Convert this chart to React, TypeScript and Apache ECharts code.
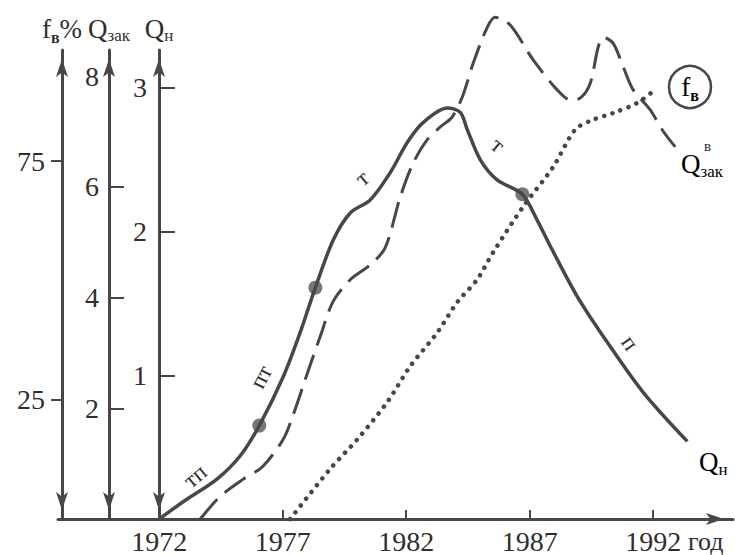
import React, { useEffect, useRef } from 'react';
import * as echarts from 'echarts';

// ---- data ----
const xTickYears = [1977, 1982, 1987, 1992];
const xLabelYears = [1972, 1977, 1982, 1987, 1992];
const fbTicks = [25, 75];
const qzakTicks = [2, 4, 6];
const qzakLabels = [2, 4, 6, 8];
const qnTicks = [1, 2, 3];

// Q_н (solid)
const qnYear = [1972.0, 1972.97, 1974.35, 1975.28, 1976.05, 1977.02, 1977.71, 1978.32, 1979.04, 1979.73, 1980.54, 1981.35, 1982.04, 1982.69, 1983.66, 1984.19, 1984.47, 1985.0, 1985.68, 1986.7, 1987.3, 1987.83, 1988.92, 1990.14, 1991.6, 1993.38];
const qnValue = [0, 0.12, 0.28, 0.44, 0.65, 0.99, 1.3, 1.61, 1.94, 2.13, 2.22, 2.41, 2.62, 2.76, 2.86, 2.83, 2.71, 2.5, 2.36, 2.26, 2.08, 1.9, 1.55, 1.23, 0.88, 0.54];
// Q_н marked points
const qnDotYear = [1976.05, 1978.32, 1986.7];
const qnDotValue = [0.65, 1.61, 2.26];

// Q_зак^в (dashed)
const qzYear = [1973.66, 1974.47, 1975.4, 1976.17, 1977.02, 1977.43, 1977.91, 1978.52, 1979.04, 1979.73, 1980.54, 1981.15, 1981.76, 1982.28, 1982.85, 1983.38, 1983.86, 1984.27, 1984.71, 1985.28, 1985.6, 1986.21, 1987.14, 1988.11, 1988.64, 1989.04, 1989.45, 1989.77, 1989.98, 1990.38, 1990.79, 1991.19, 1991.88, 1992.36, 1992.89];
const qzValue = [0, 0.41, 0.72, 0.94, 1.44, 1.89, 2.52, 3.3, 3.93, 4.32, 4.59, 4.9, 5.82, 6.43, 6.85, 7.08, 7.26, 7.62, 8.23, 8.88, 9.06, 8.92, 8.29, 7.75, 7.57, 7.6, 7.87, 8.52, 8.7, 8.59, 8.16, 7.75, 7.39, 7.03, 6.72];

// f_в (dotted)
const fbYear = [1977.3, 1978.92, 1980.02, 1981.23, 1982.16, 1983.26, 1984.06, 1984.87, 1985.52, 1986.74, 1987.95, 1988.84, 1989.57, 1990.38, 1991.35, 1992.08];
const fbValue = [0, 10.5, 16.7, 24.5, 32.0, 39.1, 45.4, 50.2, 55.9, 65.5, 73.8, 81.6, 83.7, 85.1, 87.2, 90.0];

const FONT = '"Liberation Serif", "DejaVu Serif", serif';
const INK = '#2e2e2e';
const LINE = '#474747';

const pairs = (xs: number[], ys: number[]) => xs.map((x, i) => [x, ys[i]]);

const axisLineCfg = {
  show: true,
  onZero: false,
  symbol: ['arrow', 'arrow'],
  symbolSize: [9, 18],
  symbolOffset: [9, -9],
  lineStyle: { color: LINE, width: 3 },
};

const labelCfg = { fontFamily: FONT, fontSize: 28, color: INK };

const nameRich = {
  a: { fontFamily: FONT, fontSize: 27, color: INK, verticalAlign: 'bottom' as const },
  b: { fontFamily: FONT, fontSize: 17, color: INK, verticalAlign: 'bottom' as const, padding: [0, 0, -2, 0] },
  s: { fontFamily: FONT, fontSize: 16, fontWeight: 'bold' as const, color: INK, verticalAlign: 'bottom' as const, padding: [0, 0, -3, 0] },
};

const curveLabel = (text: string, x: number, y: number, rotation: number) => ({
  type: 'text', x, y, rotation,
  style: { text, font: `23px ${FONT}`, fill: INK, align: 'center', verticalAlign: 'middle' },
});

export default function App() {
  const ref = useRef<HTMLDivElement>(null);
  useEffect(() => {
    if (!ref.current) return;
    const chart = echarts.init(ref.current, null, { renderer: 'svg' });
    const option: any = {
      animation: false,
      backgroundColor: '#ffffff',
      grid: { left: 58, right: 2, top: 50, bottom: 35 },
      xAxis: {
        type: 'value',
        min: 1967.9,
        max: 1995.23,
        axisLine: {
          show: true,
          onZero: false,
          symbol: ['none', 'arrow'],
          symbolSize: [9, 18],
          symbolOffset: [0, -9],
          lineStyle: { color: LINE, width: 3 },
        },
        axisTick: { show: true, inside: true, length: 9, customValues: xTickYears, lineStyle: { color: LINE, width: 2 } },
        axisLabel: { ...labelCfg, margin: 8, customValues: xLabelYears, formatter: (v: number) => String(v) },
        splitLine: { show: false },
      },
      yAxis: [
        {
          type: 'value', position: 'left', offset: -4, min: 0, max: 98.3,
          axisLine: axisLineCfg,
          axisTick: { show: true, inside: false, length: 11, customValues: fbTicks, lineStyle: { color: LINE, width: 2 } },
          axisLabel: { ...labelCfg, margin: 17, customValues: fbTicks },
          splitLine: { show: false },
          name: '{a|f}{s|в}{a|%}', nameLocation: 'end', nameGap: 8,
          nameTextStyle: { rich: nameRich },
        },
        {
          type: 'value', position: 'left', offset: -51, min: 0, max: 8.47,
          axisLine: axisLineCfg,
          axisTick: { show: true, inside: true, length: 15, customValues: qzakTicks, lineStyle: { color: LINE, width: 2 } },
          axisLabel: { ...labelCfg, margin: 10, customValues: qzakLabels },
          splitLine: { show: false },
          name: '{a|Q}{b|зак}', nameLocation: 'end', nameGap: 8,
          nameTextStyle: { rich: nameRich },
        },
        {
          type: 'value', position: 'left', offset: -101, min: 0, max: 3.264,
          axisLine: axisLineCfg,
          axisTick: { show: true, inside: true, length: 16, customValues: qnTicks, lineStyle: { color: LINE, width: 2 } },
          axisLabel: { ...labelCfg, margin: 12, customValues: qnTicks },
          splitLine: { show: false },
          name: '{a|Q}{b|н}', nameLocation: 'end', nameGap: 8,
          nameTextStyle: { rich: nameRich },
        },
      ],
      series: [
        {
          name: 'Qн', type: 'line', yAxisIndex: 2, data: pairs(qnYear, qnValue),
          smooth: 0.3, symbol: 'none', clip: false,
          lineStyle: { color: LINE, width: 3.5 },
        },
        {
          name: 'Qн точки', type: 'scatter', yAxisIndex: 2, data: pairs(qnDotYear, qnDotValue),
          symbolSize: 14, itemStyle: { color: '#555555' }, clip: false,
        },
        {
          name: 'Qзак', type: 'line', yAxisIndex: 1, data: pairs(qzYear, qzValue),
          smooth: 0.3, symbol: 'none', clip: false,
          lineStyle: { color: LINE, width: 3, type: [26, 10] },
        },
        {
          name: 'fв', type: 'line', yAxisIndex: 0, data: pairs(fbYear, fbValue),
          smooth: 0.3, symbol: 'none', clip: false,
          lineStyle: { color: LINE, width: 4.5, type: [0.1, 8.5], cap: 'round' },
        },
      ],
      graphic: [
        { type: 'text', x: 688, y: 541, style: { text: 'год', font: `26px ${FONT}`, fill: INK, verticalAlign: 'middle', align: 'left' } },
        curveLabel('тп', 195, 476, 0.7),
        curveLabel('пт', 261, 377, 1.1),
        curveLabel('т', 362, 178, 0.7),
        curveLabel('т', 498, 145, -0.7),
        curveLabel('п', 630, 343, -0.95),
        {
          type: 'text', x: 699, y: 462,
          style: { text: '{a|Q}{b|н}', rich: nameRich, align: 'left', verticalAlign: 'middle' },
        },
        {
          type: 'text', x: 681, y: 164,
          style: { text: '{a|Q}{b|зак}', rich: nameRich, align: 'left', verticalAlign: 'middle' },
        },
        { type: 'text', x: 704, y: 146, style: { text: 'в', font: `15px ${FONT}`, fill: INK, align: 'left', verticalAlign: 'middle' } },
        { type: 'circle', shape: { cx: 690, cy: 87, r: 21 }, style: { fill: 'none', stroke: LINE, lineWidth: 2.5 } },
        {
          type: 'text', x: 690, y: 87,
          style: { text: '{a|f}{s|в}', rich: nameRich, align: 'center', verticalAlign: 'middle' },
        },
      ],
    };
    chart.setOption(option);
    return () => chart.dispose();
  }, []);
  return (
    <div
      ref={ref}
      style={{ position: 'fixed', left: 0, top: 0, width: 735, height: 555, background: '#fff' }}
    />
  );
}
